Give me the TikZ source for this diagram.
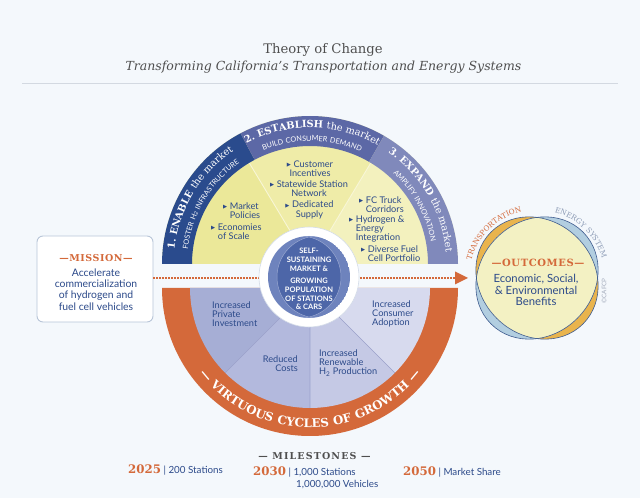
\documentclass[tikz,border=0pt]{standalone}
\usepackage{fontspec}
\setmainfont{DejaVu Serif}
\newfontfamily\serifA{DejaVu Serif}
\newfontfamily\serifSp[LetterSpace=6]{DejaVu Serif}
\newfontfamily\serifSpB[LetterSpace=12]{DejaVu Serif}
\newfontfamily\sansA{Lato}
\newfontfamily\sansSp[LetterSpace=8]{Lato}
\newfontfamily\symA{DejaVu Sans}
\usetikzlibrary{decorations.text}

\definecolor{bg}{HTML}{F4F8FC}
\definecolor{navy}{HTML}{2A4B8D}
\definecolor{bandtwo}{HTML}{5C68A6}
\definecolor{bandthree}{HTML}{8089BB}
\definecolor{yelone}{HTML}{EBE899}
\definecolor{yeltwo}{HTML}{EFECA8}
\definecolor{yelthree}{HTML}{F3F1BE}
\definecolor{yline}{HTML}{F8F6D6}
\definecolor{orng}{HTML}{D4693A}
\definecolor{txtblue}{HTML}{2C4A8A}
\definecolor{secone}{HTML}{A6AED5}
\definecolor{sectwo}{HTML}{B3B9DD}
\definecolor{secthree}{HTML}{C5C9E5}
\definecolor{secfour}{HTML}{D7DAEE}
\definecolor{secline}{HTML}{9AA2CE}
\definecolor{midblue}{HTML}{4D66A8}
\definecolor{litblue}{HTML}{6E83BD}
\definecolor{vennorange}{HTML}{E9B44D}
\definecolor{vennblue}{HTML}{B2CEE0}
\definecolor{vennyellow}{HTML}{F3F1C3}
\definecolor{vennline}{HTML}{3F5C8F}
\definecolor{greytxt}{HTML}{4F4F4F}
\definecolor{energygrey}{HTML}{8C9BB5}
\definecolor{boxline}{HTML}{B8C5D8}
\definecolor{rulegrey}{HTML}{D3D9E1}
\definecolor{crgrey}{HTML}{A3ABBB}

\newcommand\tri{{\symA\fontsize{5.3}{5.3}\selectfont\raisebox{0.9pt}{▶}}\hspace{2.6pt}}
\newcommand\trisp{\hphantom{\tri}}
\newcommand\bandhead{\serifA\bfseries\fontsize{9.8}{9.8}\selectfont\color{white}}
\newcommand\bandheadreg{\serifA\mdseries\fontsize{9.8}{9.8}\selectfont\color{white}}
\newcommand\bandsub{\sansSp\fontsize{7.3}{7.3}\selectfont\color{white}}
\newcommand\bandsubtwo{\sansSp\fontsize{5.2}{5.2}\selectfont\color{white}\raisebox{-1.4pt}}
\newcommand\vcfont{\serifSp\bfseries\fontsize{11.8}{11.8}\selectfont\color{white}}
\newcommand\venntrans{\serifSpB\fontsize{7.3}{7.3}\selectfont\color{orng}}
\newcommand\vennenergy{\serifSpB\fontsize{7.3}{7.3}\selectfont\color{energygrey}}

\tikzset{
  item/.style={inner sep=0, text=txtblue, font=\sansA\fontsize{9.2}{9.3}\selectfont},
  core/.style={inner sep=0, text=white, align=center, font=\sansA\bfseries\fontsize{7.5}{8.7}\selectfont},
  headorange/.style={inner sep=0, text=orng, font=\serifSp\bfseries\fontsize{9.5}{9.5}\selectfont},
  bodyblue/.style={inner sep=0, text=txtblue, align=center},
  dotline/.style={orng, line width=1.4pt, dash pattern=on 1.4pt off 1.6pt},
  venn/.style={vennline, line width=0.6pt},
  year/.style={inner sep=0, anchor=base west, font=\sansA\fontsize{9.8}{11}\selectfont, text=txtblue},
}
\newcommand\yr[1]{{\color{orng}\serifA\bfseries\fontsize{11.8}{11.8}\selectfont #1}}

\begin{document}
\begin{tikzpicture}[x=1pt,y=1pt]
\useasboundingbox (0,0) rectangle (640,498);
\fill[bg] (0,0) rectangle (640,498);

% ---------- title ----------
\node[anchor=base, inner sep=0, text=greytxt, font=\serifA\fontsize{13.2}{13.2}\selectfont] (title) at (323,444) {Theory of Change};
\node[anchor=base, inner sep=0, text=greytxt, font=\serifA\itshape\fontsize{12.5}{12.5}\selectfont] (subtitle) at (323.5,427.3) {Transforming California’s Transportation and Energy Systems};
\draw[rulegrey, line width=0.9pt] (22,415) -- (618,415);

% ---------- top half ----------
\begin{scope}[shift={(310,234)}]
 \fill[yelone] (0,0) -- (180:148) arc (180:121:148) -- cycle;
 \fill[yeltwo] (0,0) -- (121:148) arc (121:59:148) -- cycle;
 \fill[yelthree] (0,0) -- (59:148) arc (59:0:148) -- cycle;
 \draw[yline, line width=0.9pt] (0,0) -- (121:118) (0,0) -- (59:118);
 \fill[navy] (180:148) arc (180:118:148) -- (118:118) arc (118:180:118) -- cycle;
 \fill[bandtwo] (118:148) arc (118:60:148) -- (60:118) arc (60:118:118) -- cycle;
 \fill[bandthree] (60:148) arc (60:0:148) -- (0:118) arc (0:60:118) -- cycle;
 \path[decorate,decoration={text along path,text align=center,text={|\bandhead|1. ENABLE |\bandheadreg|the market}}] (182:136.3) arc (182:116:136.3);
 \path[decorate,decoration={text along path,text align=center,text={|\bandhead|2. ESTABLISH |\bandheadreg|the market}}] (126:136.3) arc (126:52:136.3);
 \path[decorate,decoration={text along path,text align=center,text={|\bandhead|3. EXPAND |\bandheadreg|the market}}] (64:136.3) arc (64:-4:136.3);
 \path[decorate,decoration={text along path,text align=center,text={|\bandsub|FOSTER H|\bandsubtwo|2|\bandsub| INFRASTRUCTURE}}] (184:123) arc (184:114:123);
 \path[decorate,decoration={text along path,text align=center,text={|\bandsub|BUILD CONSUMER DEMAND}}] (126:123) arc (126:52:123);
 \path[decorate,decoration={text along path,text align=center,text={|\bandsub|AMPLIFY INNOVATION}}] (64:123) arc (64:-6:123);
\end{scope}

% ---------- bottom half ----------
\begin{scope}[shift={(310,210)}]
 \fill[orng] (180:148) arc (180:360:148) -- cycle;
 \fill[secone] (0,0) -- (180:120) arc (180:225:120) -- cycle;
 \fill[sectwo] (0,0) -- (225:120) arc (225:270:120) -- cycle;
 \fill[secthree] (0,0) -- (270:120) arc (270:315:120) -- cycle;
 \fill[secfour] (0,0) -- (315:120) arc (315:360:120) -- cycle;
 \draw[secline, line width=0.6pt] (0,0) -- (225:120) (0,0) -- (270:120) (0,0) -- (315:120);
 \path[decorate,decoration={text along path,text align=center,text={|\vcfont|— VIRTUOUS CYCLES OF GROWTH —}}] (198:139.5) arc (198:342:139.5);
\end{scope}

% ---------- mission box and connector ----------
\node[draw=boxline, line width=0.9pt, fill=white, rounded corners=6pt, minimum width=116pt, minimum height=86pt, inner sep=0] (mission) at (95,219) {};
\coordinate (arrowtip) at (468,220);
\draw[dotline] (mission.east |- arrowtip) -- ([xshift=-12pt]arrowtip);
\fill[orng] (arrowtip) -- ++(-13,6.5) -- ++(0,-13) -- cycle;

% ---------- central circle ----------
\fill[white] (309,221) circle (50);
\draw[boxline!60, line width=0.6pt] (309,221) circle (50);
\begin{scope}
 \clip (309,221) circle (41);
 \fill[litblue] (309,221) circle (41);
 \begin{scope}
  \clip (300,221) circle (41);
  \fill[midblue] (318,221) circle (41);
 \end{scope}
 \draw[litblue!70!white, line width=0.5pt] (300,221) circle (41) (318,221) circle (41);
\end{scope}
\node[core] (core) at (309,219) {SELF-\\SUSTAINING\\MARKET \&\\[3.9pt]GROWING\\POPULATION\\OF STATIONS\\\& CARS};

% ---------- top items ----------
\node[item, anchor=west, align=left] (policies) at (223,287.5) {\tri Market\\\trisp Policies};
\node[item, anchor=west, align=left] (scale) at (211,266.5) {\tri Economies\\\trisp of Scale};
\node[item, align=center] (incent) at (310,329.5) {\tri Customer\\Incentives};
\node[item, align=center] (network) at (309,309) {\tri Statewide Station\\Network};
\node[item, align=center] (supply) at (309.5,288) {\tri Dedicated\\Supply};
\node[item, anchor=west, align=left] (trucks) at (359,293.5) {\tri FC Truck\\\trisp Corridors};
\node[item, anchor=west, align=left] (hydro) at (349,269) {\tri Hydrogen \&\\\trisp Energy\\\trisp Integration};
\node[item, anchor=west, align=left] (fuel) at (361,244.5) {\tri Diverse Fuel\\\trisp Cell Portfolio};

% ---------- bottom items ----------
\node[item, anchor=west, align=left] (private) at (212,184) {Increased\\Private\\Investment};
\node[item, anchor=east, align=right] (costs) at (298,134.5) {Reduced\\Costs};
\node[item, anchor=west, align=left] (renew) at (319,135) {Increased\\Renewable\\H\textsubscript{2} Production};
\node[item, anchor=west, align=left] (adopt) at (372,184) {Increased\\Consumer\\Adoption};

% ---------- mission text ----------
\node[headorange] (missionhead) at (96,240) {—MISSION—};
\node[bodyblue, font=\sansA\fontsize{10.4}{11.2}\selectfont] (missiontext) at (96,208.5) {Accelerate\\commercialization\\of hydrogen and\\fuel cell vehicles};

% ---------- outcomes venn ----------
\begin{scope}[shift={(537,220)}]
 \fill[vennorange] (0,0) ellipse [x radius=65, y radius=57, rotate=-45];
 \fill[vennblue] (0,0) ellipse [x radius=65, y radius=57, rotate=45];
 \begin{scope}
  \clip (0,0) ellipse [x radius=65, y radius=57, rotate=-45];
  \fill[vennyellow] (0,0) ellipse [x radius=65, y radius=57, rotate=45];
 \end{scope}
 \draw[venn] (0,0) ellipse [x radius=65, y radius=57, rotate=-45];
 \draw[venn] (0,0) ellipse [x radius=65, y radius=57, rotate=45];
 \path[decorate,decoration={text along path,text align=center,text={|\venntrans|TRANSPORTATION}}] (182:68) arc (182:86:68);
 \path[decorate,decoration={text along path,text align=center,text={|\vennenergy|ENERGY SYSTEM}}] (94:68) arc (94:-2:68);
\end{scope}
\node[headorange, font=\serifSp\bfseries\fontsize{10}{10}\selectfont] (outhead) at (538,235) {—OUTCOMES—};
\node[bodyblue, font=\sansA\fontsize{11.3}{11.2}\selectfont] (outtext) at (536,208) {Economic, Social,\\\& Environmental\\Benefits};
\node[inner sep=0, rotate=90, text=crgrey, font=\sansA\fontsize{6.3}{6.3}\selectfont] (copy) at (604,207) {©CAFCP};

% ---------- milestones ----------
\node[inner sep=0, text=greytxt, font=\serifSpB\bfseries\fontsize{9.5}{9.5}\selectfont] (mshead) at (314.5,42) {— MILESTONES —};
\node[year] (m2025) at (128,24) {\yr{2025} | 200 Stations};
\node[year] (m2030) at (253,22) {\yr{2030} | 1,000 Stations};
\node[year] (m2030b) at (296,10.5) {1,000,000 Vehicles};
\node[year] (m2050) at (403,22) {\yr{2050} | Market Share};
\end{tikzpicture}
\end{document}
